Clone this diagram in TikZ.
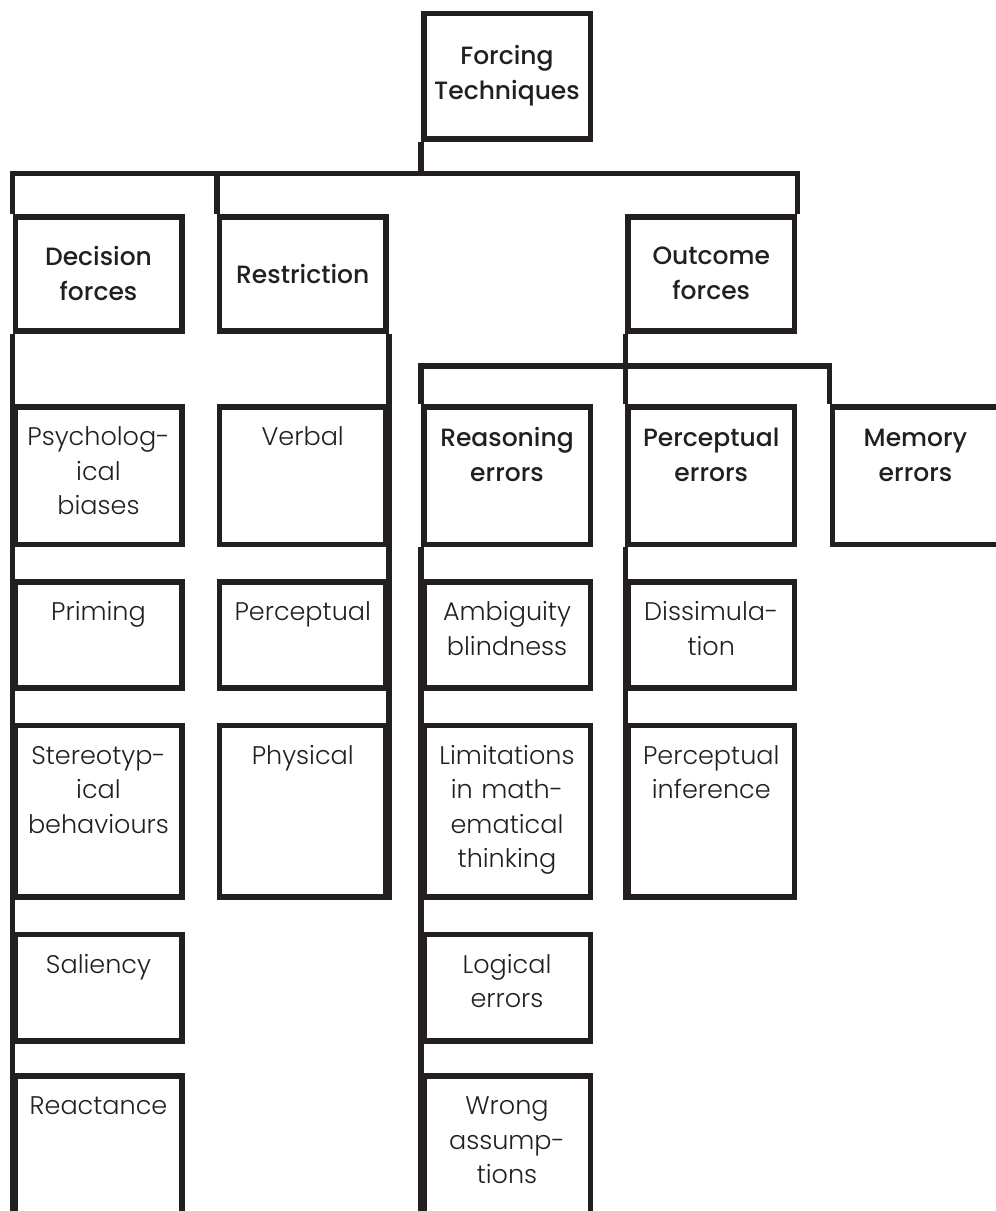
\documentclass[tikz,border=0pt]{standalone}
\usepackage{fontspec}
\IfFontExistsTF{Poppins Medium}{\newfontfamily\headface{Poppins Medium}}{\newfontfamily\headface{Poppins}}
\IfFontExistsTF{Poppins Light}{\newfontfamily\leafface{Poppins Light}}{\newfontfamily\leafface{Poppins}}
\definecolor{ink}{HTML}{231F20}

\tikzset{
  box/.style={draw=ink, line width=5.5pt, anchor=north west, inner sep=0pt,
    minimum width=166.5pt, text width=166.5pt, align=center, text=ink},
  head/.style={box, font=\headface\fontsize{25}{35}\selectfont},
  subhead/.style={head, text height=40pt},
  leaf/.style={box, font=\leafface\fontsize{25.5}{34.5}\selectfont, text height=39pt},
  wire/.style={draw=ink, line width=5.5pt},
}

\begin{document}
\begin{tikzpicture}[x=1pt,y=-1pt]
\clip (0,0) rectangle (996,1211);
\coordinate (bus) at (0,173.5); \coordinate (bustwo) at (0,366);
% top levels
\node[head, minimum height=125.5pt] (root) at (421,10.5) {Forcing\\Techniques};
\node[head, minimum height=114pt] (dec) at (12.5,214) {Decision\\forces};
\node[head, minimum height=114pt] (res) at (216.75,214) {Restriction};
\node[head, minimum height=114pt] (out) at (625.25,214) {Outcome\\forces};
\node[subhead, text depth=97.5pt] (rsn) at (421,404) {Reasoning\\errors};
\node[subhead, text depth=97.5pt] (perr) at (625.25,404) {Perceptual\\errors};
\node[subhead, text depth=97.5pt] (mem) at (829.5,404) {Memory\\errors};
% decision forces
\node[leaf, text depth=98.5pt] (psy) at (12.5,404) {Psycholog-\\ical\\biases};
\node[leaf, text depth=67pt] (prim) at (12.5,579) {Priming};
\node[leaf, text depth=132.5pt] (ster) at (12.5,722.5) {Stereotyp-\\ical\\behaviours};
\node[leaf, text depth=67.5pt] (sal) at (12.5,931.5) {Saliency};
\node[leaf, text depth=111pt] (reac) at (12.5,1073) {Reactance};
% restriction
\node[leaf, text depth=98.5pt] (verb) at (216.75,404) {Verbal};
\node[leaf, text depth=67pt] (perc) at (216.75,579) {Perceptual};
\node[leaf, text depth=132.5pt] (phys) at (216.75,722.5) {Physical};
% reasoning errors
\node[leaf, text depth=67pt] (amb) at (421,579) {Ambiguity\\blindness};
\node[leaf, text depth=132.5pt] (lim) at (421,722.5) {Limitations\\in math-\\ematical\\thinking};
\node[leaf, text depth=67.5pt] (logi) at (421,931.5) {Logical\\errors};
\node[leaf, text depth=111pt] (wrong) at (421,1073) {Wrong\\assump-\\tions};
% perceptual errors
\node[leaf, text depth=67pt] (dis) at (625.25,579) {Dissimula-\\tion};
\node[leaf, text depth=132.5pt] (inf) at (625.25,722.5) {Perceptual\\inference};
% connectors
\draw[wire] (root.south west) -- (root.south west |- bus);
\draw[wire] (dec.north west) |- (out.north east |- bus) -- (out.north east);
\draw[wire] (res.north west) -- (res.north west |- bus);
\draw[wire] (dec.south west) -- (reac.south west);
\draw[wire] (res.south east) -- (phys.south east);
\draw[wire] (out.south west) -- (perr.north west);
\draw[wire] (rsn.north west) |- (mem.north west |- bustwo) -- (mem.north west);
\draw[wire] (rsn.south west) -- (wrong.south west);
\draw[wire] (perr.south west) -- (inf.south west);
\end{tikzpicture}
\end{document}
